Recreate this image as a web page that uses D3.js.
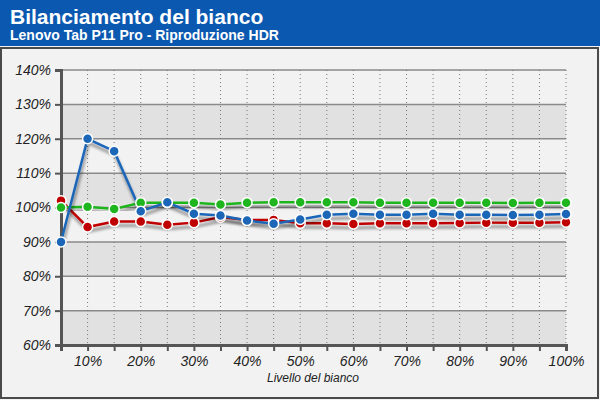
<!DOCTYPE html>
<html><head><meta charset="utf-8">
<script src="https://cdn.jsdelivr.net/npm/d3@7"></script>
<style>body{margin:0;background:#fff}svg{display:block}text{font-family:"Liberation Sans",Arial,sans-serif}</style>
</head><body><svg id="c" width="600" height="400"></svg>
<script>
const levels = [5,10,15,20,25,30,35,40,45,50,55,60,65,70,75,80,85,90,95,100];
const xTickLabels = ["10%","20%","30%","40%","50%","60%","70%","80%","90%","100%"];
const yTicks = [60,70,80,90,100,110,120,130,140];
const red   = [102.0,94.3,95.9,95.9,95.0,95.6,97.2,96.4,96.4,95.4,95.4,95.2,95.4,95.4,95.4,95.5,95.6,95.6,95.6,95.7];
const green = [100.0,100.2,99.6,101.4,101.4,101.4,100.9,101.4,101.5,101.5,101.5,101.5,101.4,101.4,101.4,101.4,101.4,101.3,101.4,101.4];
const blue  = [90.0,120.0,116.4,98.9,101.5,98.2,97.7,96.2,95.3,96.5,97.9,98.2,97.9,97.9,98.2,97.9,97.9,97.8,97.9,98.1];
const title = "Bilanciamento del bianco";
const subtitle = "Lenovo Tab P11 Pro - Riproduzione HDR";
const xTitle = "Livello del bianco";

const svg = d3.select("#c");
const defs = svg.append("defs");
const f = defs.append("filter").attr("id","sh").attr("x","-10%").attr("y","-10%").attr("width","130%").attr("height","140%");
f.append("feGaussianBlur").attr("in","SourceAlpha").attr("stdDeviation",1.6).attr("result","b");
f.append("feOffset").attr("in","b").attr("dx",1).attr("dy",4).attr("result","o");
f.append("feComponentTransfer").attr("in","o").attr("result","o2").append("feFuncA").attr("type","linear").attr("slope",0.45);
const fm = f.append("feMerge"); fm.append("feMergeNode").attr("in","o2"); fm.append("feMergeNode").attr("in","SourceGraphic");

// background & header
svg.append("rect").attr("x",0).attr("y",0).attr("width",600).attr("height",400).attr("fill","#f2f2f2");
svg.append("rect").attr("x",0).attr("y",0).attr("width",600).attr("height",46).attr("fill","#0a58b0");
svg.append("rect").attr("x",1).attr("y",48).attr("width",597).attr("height",350).attr("fill","none").attr("stroke","#4a4a4a").attr("stroke-width",2);
svg.append("text").attr("x",10).attr("y",24).attr("fill","#fff").attr("font-size",21).attr("font-weight","bold").text(title);
svg.append("text").attr("x",10).attr("y",40).attr("fill","#fff").attr("font-size",14).attr("font-weight","bold").text(subtitle);

const x = d3.scaleLinear().domain([5,100]).range([61,566]);
const y = d3.scaleLinear().domain([60,140]).range([345,70]);

// bands
const bands = [60,80,100,120].map(v=>[v,v+10]);
svg.append("g").selectAll("rect").data(bands).join("rect")
  .attr("x",x(5)).attr("width",x(100)-x(5))
  .attr("y",d=>y(d[1])).attr("height",d=>y(d[0])-y(d[1])).attr("fill","#e1e1e1");
// horizontal grid
svg.append("g").selectAll("line").data(yTicks.slice(1)).join("line")
  .attr("x1",x(5)).attr("x2",x(100)).attr("y1",d=>y(d)).attr("y2",d=>y(d))
  .attr("stroke","#8a8a8a").attr("stroke-width",1.5);
// vertical dotted grid
svg.append("g").selectAll("line").data(levels.slice(1)).join("line")
  .attr("x1",d=>x(d)).attr("x2",d=>x(d)).attr("y1",y(140)).attr("y2",y(60))
  .attr("stroke","#777").attr("stroke-width",1).attr("stroke-dasharray","1,3");

// axes
const yAxis = d3.axisLeft(y).tickValues(yTicks).tickFormat(d=>d+"%").tickSize(6).tickPadding(4);
const gy = svg.append("g").attr("transform",`translate(${x(5)},0)`).call(yAxis);
gy.select(".domain").attr("stroke","#555").attr("stroke-width",3);
gy.selectAll(".tick line").attr("stroke","#555").attr("stroke-width",2);
gy.selectAll(".tick text").attr("font-size",14).attr("font-style","italic").attr("fill","#222")
  .attr("font-family","'Liberation Sans',Arial,sans-serif");
const xAxis = d3.axisBottom(x).tickValues(levels.slice(1)).tickSize(6).tickPadding(5)
  .tickFormat(d=> d%10===0 ? xTickLabels[d/10-1] : "");
const gx = svg.append("g").attr("transform",`translate(0,${y(60)})`).call(xAxis);
gx.select(".domain").attr("stroke","#555").attr("stroke-width",3);
gx.selectAll(".tick line").attr("stroke","#555").attr("stroke-width",2);
gx.selectAll(".tick text").attr("font-size",14).attr("font-style","italic").attr("fill","#222")
  .attr("font-family","'Liberation Sans',Arial,sans-serif");
svg.append("text").attr("x",313).attr("y",382).attr("text-anchor","middle").attr("font-size",12)
  .attr("font-style","italic").attr("fill","#222").text(xTitle);

// series
const series = [
  {vals:red, color:"#c00000"},
  {vals:green, color:"#1fb51f"},
  {vals:blue, color:"#1c66b8"}
];
const line = d3.line().x((d,i)=>x(levels[i])).y(d=>y(d));
series.forEach(s=>{
  const g = svg.append("g").attr("filter","url(#sh)");
  g.append("path").datum(s.vals).attr("d",line).attr("fill","none").attr("stroke",s.color).attr("stroke-width",2.5);
});
series.forEach(s=>{
  svg.append("g").selectAll("circle").data(s.vals).join("circle")
    .attr("cx",(d,i)=>x(levels[i])).attr("cy",d=>y(d)).attr("r",5)
    .attr("fill",s.color).attr("stroke","#fff").attr("stroke-width",1.5);
});
</script></body></html>
